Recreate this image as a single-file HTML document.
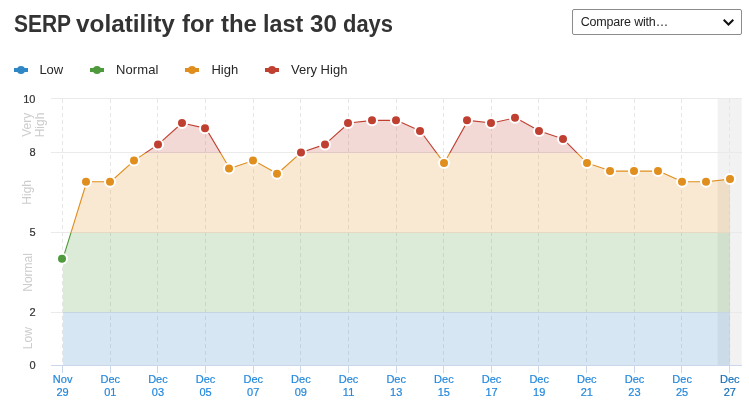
<!DOCTYPE html>
<html lang="en"><head><meta charset="utf-8"><title>SERP volatility for the last 30 days</title>
<style>
html,body{margin:0;padding:0;background:#fff;}
body{width:749px;height:407px;position:relative;overflow:hidden;font-family:"Liberation Sans",Arial,sans-serif;}
h1{position:absolute;left:0;top:10px;margin:0;width:400px;height:28px;font-size:23px;line-height:28px;font-weight:bold;color:#333;white-space:nowrap;}
h1 span{position:absolute;top:0;display:block;transform-origin:0 0;}
.sel{position:absolute;left:572px;top:9px;width:168px;height:23.5px;border:1px solid #8c8c8c;border-radius:2px;background:#fff;box-sizing:content-box;}
.sel span{position:absolute;left:7.7px;top:5px;font-size:12.5px;line-height:15px;letter-spacing:-0.18px;color:#222;white-space:nowrap;}
.sel svg{position:absolute;left:150px;top:8.8px;}
</style></head><body>
<h1><span style="left:13.64px;transform:scaleX(0.9110)">SERP </span><span style="left:76.47px;transform:scaleX(1.0591)">volatility </span><span style="left:182.40px;transform:scaleX(1.0400)">for </span><span style="left:221.24px;transform:scaleX(1.0418)">the </span><span style="left:263.26px;transform:scaleX(1.0146)">last </span><span style="left:310.48px;transform:scaleX(1.0489)">30 </span><span style="left:342.55px;transform:scaleX(0.9545)">days</span></h1>
<div class="sel"><span>Compare with…</span><svg width="11" height="8" viewBox="0 0 11 8"><path d="M0.7 0.7 L5.5 5.5 L10.3 0.7" fill="none" stroke="#111" stroke-width="2" stroke-linecap="butt" stroke-linejoin="miter"/></svg></div>
<svg id="chart" width="749" height="407" viewBox="0 0 749 407" style="position:absolute;left:0;top:0">
<defs>
<clipPath id="z-low"><rect x="0" y="312.00" width="749" height="95.00"/></clipPath>
<clipPath id="z-norm"><rect x="0" y="233.00" width="749" height="79.00"/></clipPath>
<clipPath id="z-high"><rect x="0" y="153.00" width="749" height="80.00"/></clipPath>
<clipPath id="z-vhigh"><rect x="0" y="0.00" width="749" height="153.00"/></clipPath>
</defs>
<rect x="717.6" y="98" width="24" height="268" fill="#f2f2f2"/>
<path d="M51 98.5 L742 98.5" stroke="#eaeaea" stroke-width="1" fill="none"/>
<path d="M51 152.5 L742 152.5" stroke="#eaeaea" stroke-width="1" fill="none"/>
<path d="M51 232.5 L742 232.5" stroke="#eaeaea" stroke-width="1" fill="none"/>
<path d="M51 312.5 L742 312.5" stroke="#eaeaea" stroke-width="1" fill="none"/>
<path d="M62.5 99 L62.5 365" stroke="#e6e6e6" stroke-width="1" stroke-dasharray="4,3" fill="none"/>
<path d="M110.5 99 L110.5 365" stroke="#e6e6e6" stroke-width="1" stroke-dasharray="4,3" fill="none"/>
<path d="M157.5 99 L157.5 365" stroke="#e6e6e6" stroke-width="1" stroke-dasharray="4,3" fill="none"/>
<path d="M205.5 99 L205.5 365" stroke="#e6e6e6" stroke-width="1" stroke-dasharray="4,3" fill="none"/>
<path d="M253.5 99 L253.5 365" stroke="#e6e6e6" stroke-width="1" stroke-dasharray="4,3" fill="none"/>
<path d="M300.5 99 L300.5 365" stroke="#e6e6e6" stroke-width="1" stroke-dasharray="4,3" fill="none"/>
<path d="M348.5 99 L348.5 365" stroke="#e6e6e6" stroke-width="1" stroke-dasharray="4,3" fill="none"/>
<path d="M396.5 99 L396.5 365" stroke="#e6e6e6" stroke-width="1" stroke-dasharray="4,3" fill="none"/>
<path d="M443.5 99 L443.5 365" stroke="#e6e6e6" stroke-width="1" stroke-dasharray="4,3" fill="none"/>
<path d="M491.5 99 L491.5 365" stroke="#e6e6e6" stroke-width="1" stroke-dasharray="4,3" fill="none"/>
<path d="M538.5 99 L538.5 365" stroke="#e6e6e6" stroke-width="1" stroke-dasharray="4,3" fill="none"/>
<path d="M586.5 99 L586.5 365" stroke="#e6e6e6" stroke-width="1" stroke-dasharray="4,3" fill="none"/>
<path d="M634.5 99 L634.5 365" stroke="#e6e6e6" stroke-width="1" stroke-dasharray="4,3" fill="none"/>
<path d="M681.5 99 L681.5 365" stroke="#e6e6e6" stroke-width="1" stroke-dasharray="4,3" fill="none"/>
<path d="M729.5 99 L729.5 365" stroke="#e6e6e6" stroke-width="1" stroke-dasharray="4,3" fill="none"/>
<path d="M62.91 258.67 L86.74 181.77 L110.57 181.77 L134.40 160.41 L158.22 144.39 L182.05 123.03 L205.88 128.37 L229.71 168.42 L253.53 160.41 L277.36 173.76 L301.19 152.40 L325.02 144.39 L348.84 123.03 L372.67 120.36 L396.50 120.36 L420.33 131.04 L444.16 163.08 L467.98 120.36 L491.81 123.03 L515.64 117.69 L539.47 131.04 L563.29 139.05 L587.12 163.08 L610.95 171.09 L634.78 171.09 L658.60 171.09 L682.43 181.77 L706.26 181.77 L730.09 179.10 L730.09 366.0 L62.91 366.0 Z" fill="#3087c5" fill-opacity="0.2" clip-path="url(#z-low)"/>
<path d="M62.91 258.67 L86.74 181.77 L110.57 181.77 L134.40 160.41 L158.22 144.39 L182.05 123.03 L205.88 128.37 L229.71 168.42 L253.53 160.41 L277.36 173.76 L301.19 152.40 L325.02 144.39 L348.84 123.03 L372.67 120.36 L396.50 120.36 L420.33 131.04 L444.16 163.08 L467.98 120.36 L491.81 123.03 L515.64 117.69 L539.47 131.04 L563.29 139.05 L587.12 163.08 L610.95 171.09 L634.78 171.09 L658.60 171.09 L682.43 181.77 L706.26 181.77 L730.09 179.10 L730.09 366.0 L62.91 366.0 Z" fill="#4e9a3c" fill-opacity="0.2" clip-path="url(#z-norm)"/>
<path d="M62.91 258.67 L86.74 181.77 L110.57 181.77 L134.40 160.41 L158.22 144.39 L182.05 123.03 L205.88 128.37 L229.71 168.42 L253.53 160.41 L277.36 173.76 L301.19 152.40 L325.02 144.39 L348.84 123.03 L372.67 120.36 L396.50 120.36 L420.33 131.04 L444.16 163.08 L467.98 120.36 L491.81 123.03 L515.64 117.69 L539.47 131.04 L563.29 139.05 L587.12 163.08 L610.95 171.09 L634.78 171.09 L658.60 171.09 L682.43 181.77 L706.26 181.77 L730.09 179.10 L730.09 366.0 L62.91 366.0 Z" fill="#e08e1d" fill-opacity="0.2" clip-path="url(#z-high)"/>
<path d="M62.91 258.67 L86.74 181.77 L110.57 181.77 L134.40 160.41 L158.22 144.39 L182.05 123.03 L205.88 128.37 L229.71 168.42 L253.53 160.41 L277.36 173.76 L301.19 152.40 L325.02 144.39 L348.84 123.03 L372.67 120.36 L396.50 120.36 L420.33 131.04 L444.16 163.08 L467.98 120.36 L491.81 123.03 L515.64 117.69 L539.47 131.04 L563.29 139.05 L587.12 163.08 L610.95 171.09 L634.78 171.09 L658.60 171.09 L682.43 181.77 L706.26 181.77 L730.09 179.10 L730.09 366.0 L62.91 366.0 Z" fill="#bf4031" fill-opacity="0.2" clip-path="url(#z-vhigh)"/>
<path d="M62.91 258.67 L86.74 181.77 L110.57 181.77 L134.40 160.41 L158.22 144.39 L182.05 123.03 L205.88 128.37 L229.71 168.42 L253.53 160.41 L277.36 173.76 L301.19 152.40 L325.02 144.39 L348.84 123.03 L372.67 120.36 L396.50 120.36 L420.33 131.04 L444.16 163.08 L467.98 120.36 L491.81 123.03 L515.64 117.69 L539.47 131.04 L563.29 139.05 L587.12 163.08 L610.95 171.09 L634.78 171.09 L658.60 171.09 L682.43 181.77 L706.26 181.77 L730.09 179.10" fill="none" stroke="#3087c5" stroke-width="1.1" stroke-linejoin="round" stroke-linecap="round" clip-path="url(#z-low)"/>
<path d="M62.91 258.67 L86.74 181.77 L110.57 181.77 L134.40 160.41 L158.22 144.39 L182.05 123.03 L205.88 128.37 L229.71 168.42 L253.53 160.41 L277.36 173.76 L301.19 152.40 L325.02 144.39 L348.84 123.03 L372.67 120.36 L396.50 120.36 L420.33 131.04 L444.16 163.08 L467.98 120.36 L491.81 123.03 L515.64 117.69 L539.47 131.04 L563.29 139.05 L587.12 163.08 L610.95 171.09 L634.78 171.09 L658.60 171.09 L682.43 181.77 L706.26 181.77 L730.09 179.10" fill="none" stroke="#4e9a3c" stroke-width="1.1" stroke-linejoin="round" stroke-linecap="round" clip-path="url(#z-norm)"/>
<path d="M62.91 258.67 L86.74 181.77 L110.57 181.77 L134.40 160.41 L158.22 144.39 L182.05 123.03 L205.88 128.37 L229.71 168.42 L253.53 160.41 L277.36 173.76 L301.19 152.40 L325.02 144.39 L348.84 123.03 L372.67 120.36 L396.50 120.36 L420.33 131.04 L444.16 163.08 L467.98 120.36 L491.81 123.03 L515.64 117.69 L539.47 131.04 L563.29 139.05 L587.12 163.08 L610.95 171.09 L634.78 171.09 L658.60 171.09 L682.43 181.77 L706.26 181.77 L730.09 179.10" fill="none" stroke="#e08e1d" stroke-width="1.1" stroke-linejoin="round" stroke-linecap="round" clip-path="url(#z-high)"/>
<path d="M62.91 258.67 L86.74 181.77 L110.57 181.77 L134.40 160.41 L158.22 144.39 L182.05 123.03 L205.88 128.37 L229.71 168.42 L253.53 160.41 L277.36 173.76 L301.19 152.40 L325.02 144.39 L348.84 123.03 L372.67 120.36 L396.50 120.36 L420.33 131.04 L444.16 163.08 L467.98 120.36 L491.81 123.03 L515.64 117.69 L539.47 131.04 L563.29 139.05 L587.12 163.08 L610.95 171.09 L634.78 171.09 L658.60 171.09 L682.43 181.77 L706.26 181.77 L730.09 179.10" fill="none" stroke="#bf4031" stroke-width="1.1" stroke-linejoin="round" stroke-linecap="round" clip-path="url(#z-vhigh)"/>
<path d="M51 365.5 L742 365.5" stroke="#ccd6eb" stroke-width="1" fill="none"/>
<path d="M62.5 366 L62.5 373" stroke="#ccd6eb" stroke-width="1" fill="none"/>
<path d="M110.5 366 L110.5 373" stroke="#ccd6eb" stroke-width="1" fill="none"/>
<path d="M157.5 366 L157.5 373" stroke="#ccd6eb" stroke-width="1" fill="none"/>
<path d="M205.5 366 L205.5 373" stroke="#ccd6eb" stroke-width="1" fill="none"/>
<path d="M253.5 366 L253.5 373" stroke="#ccd6eb" stroke-width="1" fill="none"/>
<path d="M300.5 366 L300.5 373" stroke="#ccd6eb" stroke-width="1" fill="none"/>
<path d="M348.5 366 L348.5 373" stroke="#ccd6eb" stroke-width="1" fill="none"/>
<path d="M396.5 366 L396.5 373" stroke="#ccd6eb" stroke-width="1" fill="none"/>
<path d="M443.5 366 L443.5 373" stroke="#ccd6eb" stroke-width="1" fill="none"/>
<path d="M491.5 366 L491.5 373" stroke="#ccd6eb" stroke-width="1" fill="none"/>
<path d="M538.5 366 L538.5 373" stroke="#ccd6eb" stroke-width="1" fill="none"/>
<path d="M586.5 366 L586.5 373" stroke="#ccd6eb" stroke-width="1" fill="none"/>
<path d="M634.5 366 L634.5 373" stroke="#ccd6eb" stroke-width="1" fill="none"/>
<path d="M681.5 366 L681.5 373" stroke="#ccd6eb" stroke-width="1" fill="none"/>
<path d="M729.5 366 L729.5 373" stroke="#ccd6eb" stroke-width="1" fill="none"/>
<circle cx="62" cy="258.67" r="5" fill="#4e9a3c" stroke="#fff" stroke-width="2"/>
<circle cx="86" cy="181.77" r="5" fill="#e08e1d" stroke="#fff" stroke-width="2"/>
<circle cx="110" cy="181.77" r="5" fill="#e08e1d" stroke="#fff" stroke-width="2"/>
<circle cx="134" cy="160.41" r="5" fill="#e08e1d" stroke="#fff" stroke-width="2"/>
<circle cx="158" cy="144.39" r="5" fill="#bf4031" stroke="#fff" stroke-width="2"/>
<circle cx="182" cy="123.03" r="5" fill="#bf4031" stroke="#fff" stroke-width="2"/>
<circle cx="205" cy="128.37" r="5" fill="#bf4031" stroke="#fff" stroke-width="2"/>
<circle cx="229" cy="168.42" r="5" fill="#e08e1d" stroke="#fff" stroke-width="2"/>
<circle cx="253" cy="160.41" r="5" fill="#e08e1d" stroke="#fff" stroke-width="2"/>
<circle cx="277" cy="173.76" r="5" fill="#e08e1d" stroke="#fff" stroke-width="2"/>
<circle cx="301" cy="152.40" r="5" fill="#bf4031" stroke="#fff" stroke-width="2"/>
<circle cx="325" cy="144.39" r="5" fill="#bf4031" stroke="#fff" stroke-width="2"/>
<circle cx="348" cy="123.03" r="5" fill="#bf4031" stroke="#fff" stroke-width="2"/>
<circle cx="372" cy="120.36" r="5" fill="#bf4031" stroke="#fff" stroke-width="2"/>
<circle cx="396" cy="120.36" r="5" fill="#bf4031" stroke="#fff" stroke-width="2"/>
<circle cx="420" cy="131.04" r="5" fill="#bf4031" stroke="#fff" stroke-width="2"/>
<circle cx="444" cy="163.08" r="5" fill="#e08e1d" stroke="#fff" stroke-width="2"/>
<circle cx="467" cy="120.36" r="5" fill="#bf4031" stroke="#fff" stroke-width="2"/>
<circle cx="491" cy="123.03" r="5" fill="#bf4031" stroke="#fff" stroke-width="2"/>
<circle cx="515" cy="117.69" r="5" fill="#bf4031" stroke="#fff" stroke-width="2"/>
<circle cx="539" cy="131.04" r="5" fill="#bf4031" stroke="#fff" stroke-width="2"/>
<circle cx="563" cy="139.05" r="5" fill="#bf4031" stroke="#fff" stroke-width="2"/>
<circle cx="587" cy="163.08" r="5" fill="#e08e1d" stroke="#fff" stroke-width="2"/>
<circle cx="610" cy="171.09" r="5" fill="#e08e1d" stroke="#fff" stroke-width="2"/>
<circle cx="634" cy="171.09" r="5" fill="#e08e1d" stroke="#fff" stroke-width="2"/>
<circle cx="658" cy="171.09" r="5" fill="#e08e1d" stroke="#fff" stroke-width="2"/>
<circle cx="682" cy="181.77" r="5" fill="#e08e1d" stroke="#fff" stroke-width="2"/>
<circle cx="706" cy="181.77" r="5" fill="#e08e1d" stroke="#fff" stroke-width="2"/>
<circle cx="730" cy="179.10" r="5" fill="#e08e1d" stroke="#fff" stroke-width="2"/>
<g font-family="Liberation Sans, Arial, sans-serif" font-size="11" fill="#333" stroke="#333" stroke-width="0.2" text-anchor="end">
<text x="35.5" y="102.5">10</text>
<text x="35.5" y="155.9">8</text>
<text x="35.5" y="236.0">5</text>
<text x="35.5" y="316.1">2</text>
<text x="35.5" y="369.0">0</text>
</g>
<g font-family="Liberation Sans, Arial, sans-serif" font-size="12" fill="#cccccc" text-anchor="middle">
<text transform="translate(31.2 124.8) rotate(-90)" x="0" y="0">Very</text>
<text transform="translate(44 125) rotate(-90)" x="0" y="0">High</text>
<text transform="translate(31 192.3) rotate(-90)" x="0" y="0">High</text>
<text transform="translate(32 272.4) rotate(-90)" x="0" y="0">Normal</text>
<text transform="translate(32.2 338.2) rotate(-90)" x="0" y="0">Low</text>
</g>
<g font-family="Liberation Sans, Arial, sans-serif" font-size="11" fill="#2488dc" stroke="#2488dc" stroke-width="0.2" text-anchor="middle">
<text x="62.61" y="383">Nov</text><text x="62.61" y="396">29</text>
<text x="110.27" y="383">Dec</text><text x="110.27" y="396">01</text>
<text x="157.92" y="383">Dec</text><text x="157.92" y="396">03</text>
<text x="205.58" y="383">Dec</text><text x="205.58" y="396">05</text>
<text x="253.23" y="383">Dec</text><text x="253.23" y="396">07</text>
<text x="300.89" y="383">Dec</text><text x="300.89" y="396">09</text>
<text x="348.54" y="383">Dec</text><text x="348.54" y="396">11</text>
<text x="396.2" y="383">Dec</text><text x="396.2" y="396">13</text>
<text x="443.86" y="383">Dec</text><text x="443.86" y="396">15</text>
<text x="491.51" y="383">Dec</text><text x="491.51" y="396">17</text>
<text x="539.17" y="383">Dec</text><text x="539.17" y="396">19</text>
<text x="586.82" y="383">Dec</text><text x="586.82" y="396">21</text>
<text x="634.48" y="383">Dec</text><text x="634.48" y="396">23</text>
<text x="682.13" y="383">Dec</text><text x="682.13" y="396">25</text>
<text x="729.79" y="383" fill="#1670b8" stroke="#1670b8">Dec</text><text x="729.79" y="396" fill="#1670b8" stroke="#1670b8">27</text>
</g>
<g font-family="Liberation Sans, Arial, sans-serif" font-size="13" fill="#262626">
<rect x="14" y="68" width="14" height="4" fill="#3087c5"/><circle cx="21" cy="70" r="4" fill="#3087c5"/><text x="39.4" y="73.6">Low</text>
<rect x="90" y="68" width="14" height="4" fill="#4e9a3c"/><circle cx="97" cy="70" r="4" fill="#4e9a3c"/><text x="115.9" y="73.6" letter-spacing="0.12">Normal</text>
<rect x="185" y="68" width="14" height="4" fill="#e08e1d"/><circle cx="192" cy="70" r="4" fill="#e08e1d"/><text x="211.4" y="73.6">High</text>
<rect x="265" y="68" width="14" height="4" fill="#bf4031"/><circle cx="272" cy="70" r="4" fill="#bf4031"/><text x="291" y="73.6">Very High</text>
</g>
</svg>
</body></html>
